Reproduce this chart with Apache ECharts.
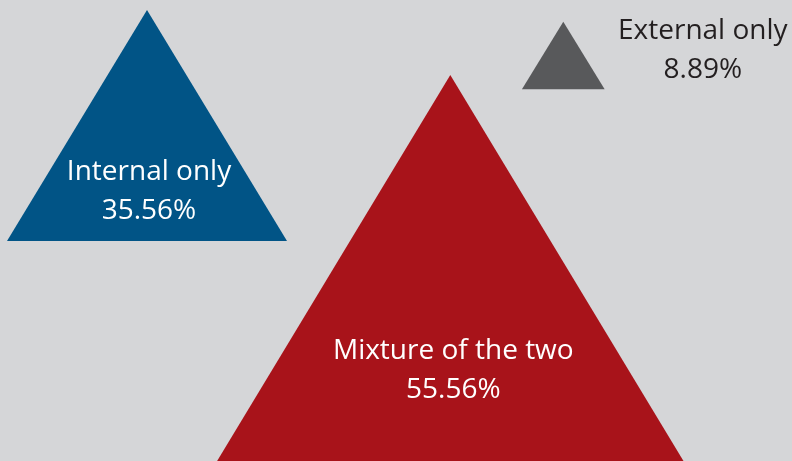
<!DOCTYPE html>
<html>
<head>
<meta charset="utf-8">
<script src="https://cdn.jsdelivr.net/npm/echarts@6/dist/echarts.min.js"></script>
<style>
html,body{margin:0;padding:0;background:#d5d6d8;}
#chart{width:792px;height:461px;}
</style>
</head>
<body>
<div id="chart"></div>
<script>
// Data
var categories = ['Internal only', 'Mixture of the two', 'External only'];
var values = [35.56, 55.56, 8.89];

// Layout (positions in plot units, sizes, styles) kept separate from data
var centers = [[147, 125.5], [450.3, 317.5], [563.3, 55.5]];
var sizes = [[280, 231], [586, 485], [82.7, 67.6]];
var colors = ['#015486', '#a8131a', '#58595b'];
var labelColors = ['#ffffff', '#ffffff', '#231f20'];
var labelOffsets = [[2, 66], [3, 53], [139.5, -4.5]];

var chart = echarts.init(document.getElementById('chart'));
var data = categories.map(function (c, i) {
  return {
    name: c,
    value: [centers[i][0], centers[i][1], values[i]],
    symbolSize: sizes[i],
    itemStyle: { color: colors[i], opacity: 1 },
    label: { color: labelColors[i], offset: labelOffsets[i], opacity: 1 }
  };
});
chart.setOption({
  backgroundColor: '#d5d6d8',
  animation: false,
  grid: { left: 0, top: 0, width: 792, height: 461 },
  xAxis: { type: 'value', min: 0, max: 792, show: false },
  yAxis: { type: 'value', min: 0, max: 461, inverse: true, show: false },
  series: [{
    type: 'scatter',
    symbol: 'triangle',
    data: data,
    itemStyle: { opacity: 1 },
    label: {
      show: true,
      position: 'inside',
      fontFamily: 'Open Sans',
      fontSize: 28,
      lineHeight: 39,
      align: 'center',
      formatter: function (p) { return p.name + '\n' + p.value[2].toFixed(2) + '%'; }
    },
    emphasis: { disabled: true }
  }]
});
</script>
</body>
</html>
